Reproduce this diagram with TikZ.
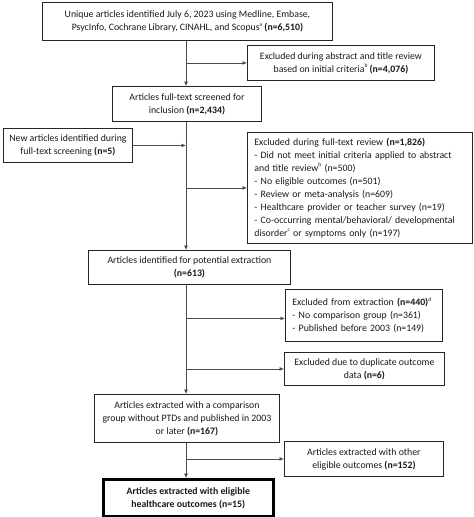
\documentclass[tikz,border=0pt]{standalone}
\usepackage{fontspec}
\setmainfont{Carlito}
\usetikzlibrary{arrows.meta,calc}
\newcommand{\mysup}[1]{\raisebox{0.45em}{\fontsize{5.5}{6}\selectfont #1}}
\begin{document}
\begin{tikzpicture}[x=1pt,y=-1pt,
  box/.style={draw=black!85, line width=0.9pt, anchor=north west, inner sep=2pt, align=center,
    font=\fontsize{9.8}{13}\selectfont, text=black!90},
  lbox/.style={box, align=left, inner xsep=7pt},
  arr/.style={draw=black!70, line width=0.7pt, -{Latex[length=4.5pt,width=4pt]}},
  ln/.style={draw=black!70, line width=0.7pt}]
\useasboundingbox (0,0) rectangle (474,517);
\coordinate (spine) at (186,0);
\node[box, minimum width=290pt, minimum height=38pt] (b1) at (42,2)
  {Unique articles identified July 6, 2023 using Medline, Embase,\\ PsycInfo, Cochrane Library, CINAHL, and Scopus\mysup{a} \textbf{(n=6,510)}};
\node[box, minimum width=187pt, minimum height=35pt] (b2) at (247,45)
  {Excluded during abstract and title review\\ based on initial criteria\mysup{b} \textbf{(n=4,076)}};
\node[box, minimum width=149pt, minimum height=35pt] (b3) at (112,86)
  {Articles full-text screened for\\ inclusion \textbf{(n=2,434)}};
\node[box, minimum width=129pt, minimum height=34pt] (b4) at (3,128)
  {New articles identified during\\ full-text screening \textbf{(n=5)}};
\node[lbox, minimum width=225pt, minimum height=111pt, text width=211pt] (b5) at (247,132)
  {Excluded during full-text review \textbf{(n=1,826)}\\
   - Did not meet initial criteria applied to abstract\\
   and title review\mysup{b} (n=500)\\
   - No eligible outcomes (n=501)\\
   - Review or meta-analysis (n=609)\\
   - Healthcare provider or teacher survey (n=19)\\
   - Co-occurring mental/behavioral/ developmental\\
   disorder\mysup{c} or symptoms only (n=197)};
\node[box, minimum width=202pt, minimum height=34pt] (b6) at (88,250)
  {Articles identified for potential extraction\\ \textbf{(n=613)}};
\node[lbox, minimum width=157pt, minimum height=52pt, text width=143pt] (b7) at (285,289)
  {Excluded from extraction \textbf{(n=440)}\mysup{d}\\
   - No comparison group (n=361)\\
   - Published before 2003 (n=149)};
\node[box, minimum width=160pt, minimum height=33pt] (b8) at (284,352)
  {Excluded due to duplicate outcome\\ data \textbf{(n=6)}};
\node[box, minimum width=185pt, minimum height=48pt] (b9) at (94,394)
  {Articles extracted with a comparison\\ group without PTDs and published in 2003\\ or later \textbf{(n=167)}};
\node[box, minimum width=159pt, minimum height=35pt] (b10) at (284,441)
  {Articles extracted with other\\ eligible outcomes \textbf{(n=152)}};
\node[box, line width=2.6pt, draw=black, minimum width=170pt, minimum height=37pt, font=\fontsize{9.8}{13}\selectfont\bfseries] (b11) at (102,478)
  {Articles extracted with eligible\\ healthcare outcomes (n=15)};
% spine
\draw[arr] (b1.south -| spine) -- (b3.north -| spine);
\draw[arr] (b3.south -| spine) -- (b6.north -| spine);
\draw[arr] (b6.south -| spine) -- (b9.north -| spine);
\draw[arr] (b9.south -| spine) -- (b11.north -| spine);
% side branches
\draw[arr] (spine |- b2.west) -- (b2.west);
\draw[arr] (b4.east) -- (b4.east -| spine);
\draw[arr] (spine |- b5.west) -- (b5.west);
\draw[arr] ($(spine |- b7.west)+(0,3)$) -- ($(b7.west)+(0,3)$);
\draw[arr] (spine |- b8.west) -- (b8.west);
\draw[arr] (spine |- b10.west) -- (b10.west);
\end{tikzpicture}
\end{document}
